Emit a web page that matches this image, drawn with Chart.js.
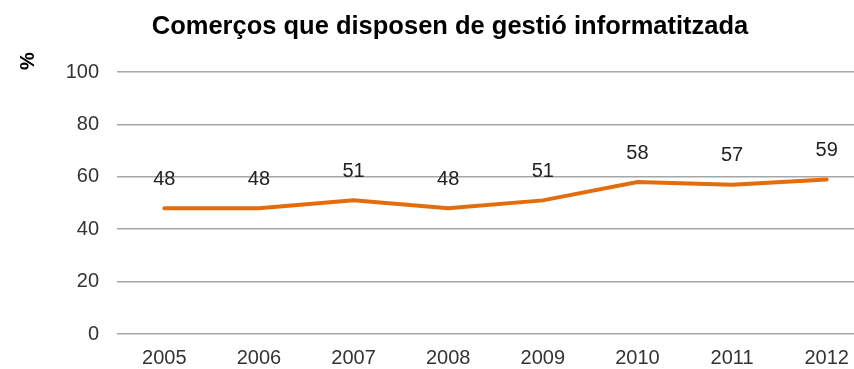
<!DOCTYPE html>
<html>
<head>
<meta charset="utf-8">
<title>Comerços que disposen de gestió informatitzada</title>
<script src="https://cdn.jsdelivr.net/npm/chart.js@4"></script>
<style>
  html, body { margin: 0; padding: 0; background: #fff; overflow: hidden; }
  #wrap { width: 900px; height: 369px; }
</style>
</head>
<body>
<div id="wrap"><canvas id="lineChart" width="900" height="369"></canvas></div>
<script>
// years and share of shops (%) with computerised management
const years = ['2005', '2006', '2007', '2008', '2009', '2010', '2011', '2012'];
const values = [48, 48, 51, 48, 51, 58, 57, 59];
const yTicks = [0, 20, 40, 60, 80, 100];
const chartTitle = 'Comerços que disposen de gestió informatitzada';

const FONT = "'Liberation Sans', Arial, sans-serif";

// value labels above each point
const pointLabels = {
    id: 'pointLabels',
    afterDatasetsDraw(chart) {
        const ctx = chart.ctx;
        const meta = chart.getDatasetMeta(0);
        ctx.save();
        ctx.font = '20px ' + FONT;
        ctx.fillStyle = '#222';
        ctx.textAlign = 'center';
        ctx.textBaseline = 'middle';
        meta.data.forEach((pt, i) => {
            ctx.fillText(values[i], pt.x, pt.y - 29);
        });
        ctx.restore();
    }
};

// title and rotated "%" unit at the top of the y axis
const headings = {
    id: 'headings',
    afterDraw(chart) {
        const ctx = chart.ctx;
        ctx.save();
        ctx.font = 'bold 25.5px ' + FONT;
        ctx.fillStyle = '#000';
        ctx.textAlign = 'center';
        ctx.textBaseline = 'alphabetic';
        ctx.fillText(chartTitle, 450, 34);

        ctx.translate(28, 61);
        ctx.rotate(-Math.PI / 2);
        ctx.font = 'bold 20px ' + FONT;
        ctx.textBaseline = 'middle';
        ctx.fillText('%', 0, 0);
        ctx.restore();
    }
};

const ctx = document.getElementById('lineChart').getContext('2d');
new Chart(ctx, {
    type: 'line',
    data: {
        labels: years,
        datasets: [{
            label: '%',
            data: values,
            borderColor: '#E46C0A',
            borderWidth: 4,
            borderCapStyle: 'round',
            pointRadius: 0,
            pointHoverRadius: 0,
            fill: false,
            tension: 0
        }]
    },
    options: {
        responsive: false,
        animation: false,
        layout: { padding: { left: 0, right: 26, top: 72, bottom: 0 } },
        plugins: {
            legend: { display: false },
            tooltip: { enabled: false },
            title: { display: false }
        },
        scales: {
            x: {
                offset: true,
                grid: { display: false, drawTicks: false },
                border: { display: false },
                ticks: {
                    color: '#333',
                    font: { family: FONT, size: 20 },
                    padding: 12,
                    maxRotation: 0
                },
                afterFit(scale) { scale.height = 35; }
            },
            y: {
                min: 0,
                max: 100,
                grid: { color: '#a6a6a6', lineWidth: 1.5, drawTicks: false },
                border: { display: false },
                ticks: {
                    color: '#333',
                    font: { family: FONT, size: 20 },
                    padding: 18
                },
                afterBuildTicks(scale) {
                    scale.ticks = yTicks.map(v => ({ value: v }));
                },
                afterFit(scale) { scale.width = 117; }
            }
        }
    },
    plugins: [pointLabels, headings]
});
</script>
</body>
</html>
